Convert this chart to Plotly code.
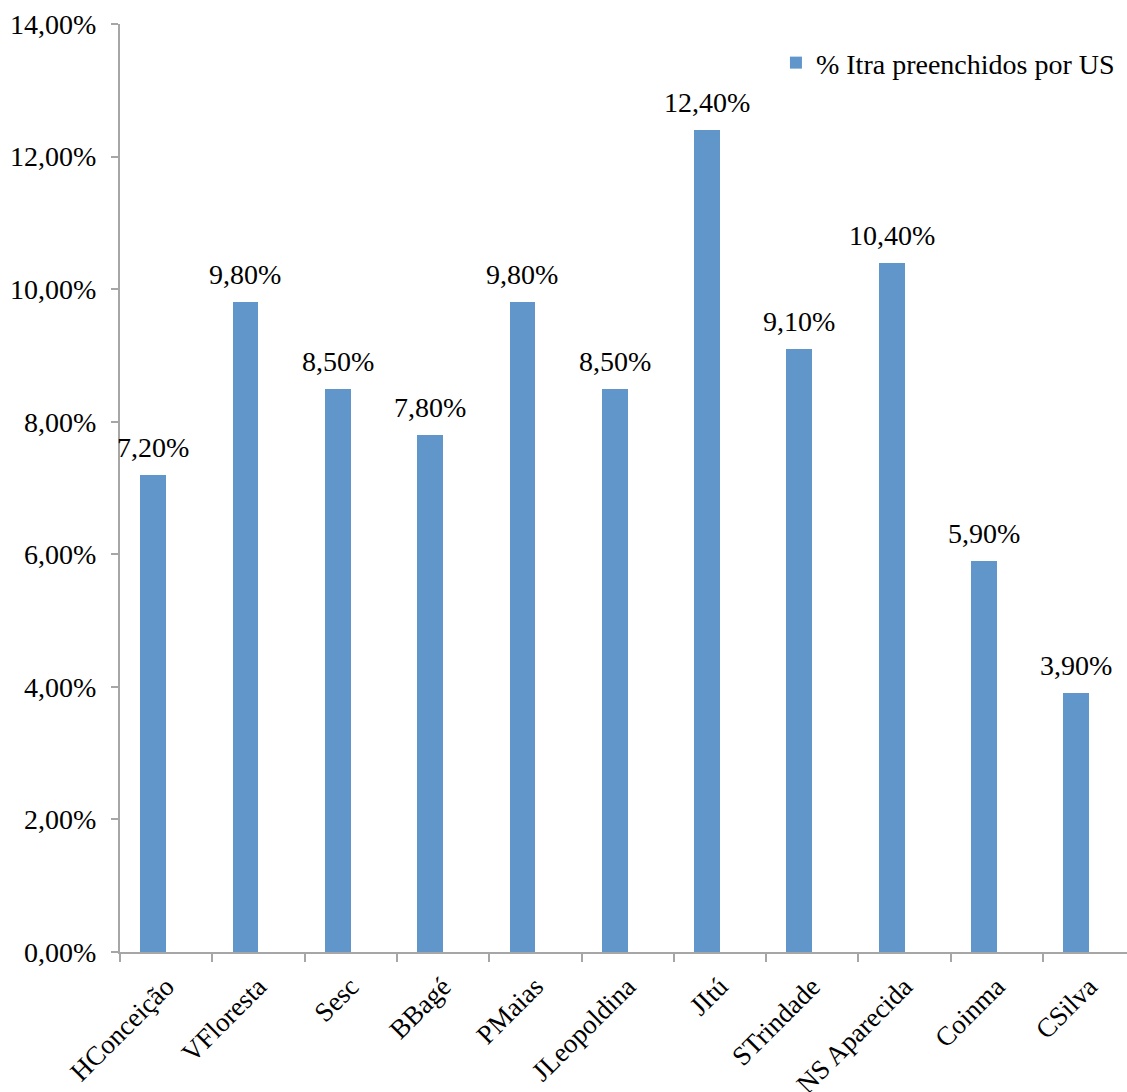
import plotly.graph_objects as go

# Share of filled Itra forms per health unit (US)
unidades = ["HConceição", "VFloresta", "Sesc", "BBagé", "PMaias", "JLeopoldina",
            "JItú", "STrindade", "NS Aparecida", "Coinma", "CSilva"]
percentuais = [0.072, 0.098, 0.085, 0.078, 0.098, 0.085,
               0.124, 0.091, 0.104, 0.059, 0.039]
serie_nome = "% Itra preenchidos por US"

FONT = "Liberation Serif"
AXIS_GREY = "#a6a6a6"
BAR_BLUE = "#6096CA"
BAR_WIDTH = 0.28  # in category units; bars sit left of the category centre

fig = go.Figure()
fig.add_trace(go.Bar(
    x=unidades,
    y=percentuais,
    name=serie_nome,
    marker=dict(color=BAR_BLUE, line=dict(width=0)),
    width=BAR_WIDTH,
    offset=-BAR_WIDTH,
    showlegend=True,
))

# value labels above each bar
for nome, valor in zip(unidades, percentuais):
    fig.add_annotation(
        x=nome, y=valor, xref="x", yref="y",
        text=f"{valor * 100:.2f}%".replace(".", ","),
        showarrow=False,
        xanchor="center", yanchor="bottom",
        xshift=-13, yshift=10,
        font=dict(family=FONT, size=28, color="black"),
    )

fig.update_layout(
    width=1127,
    height=1092,
    margin=dict(l=120, r=0, t=24, b=140),
    paper_bgcolor="white",
    plot_bgcolor="white",
    separators=",.",
    font=dict(family=FONT, size=28, color="black"),
    showlegend=True,
    legend=dict(
        x=0.993, y=0.985, xanchor="right", yanchor="top",
        bgcolor="rgba(0,0,0,0)",
        font=dict(family=FONT, size=28, color="black"),
        itemsizing="constant",
        itemwidth=30,
    ),
    xaxis=dict(
        type="category",
        range=[-0.5, 10.41],
        automargin=False,
        tickangle=-45,
        tickson="boundaries",
        ticks="outside",
        ticklen=8,
        tickcolor=AXIS_GREY,
        tickwidth=2,
        showline=True,
        linecolor=AXIS_GREY,
        linewidth=2,
        showgrid=False,
        ticklabelstandoff=6,
        tickfont=dict(family=FONT, size=27, color="black"),
    ),
    yaxis=dict(
        range=[0, 0.14],
        dtick=0.02,
        tickformat=".2%",
        automargin=False,
        ticks="outside",
        ticklen=7,
        tickcolor=AXIS_GREY,
        tickwidth=2,
        showline=True,
        linecolor=AXIS_GREY,
        linewidth=2,
        showgrid=False,
        zeroline=False,
        ticklabelstandoff=9,
        tickfont=dict(family=FONT, size=28, color="black"),
    ),
    bargap=0,
)

fig.write_html("out.html")
